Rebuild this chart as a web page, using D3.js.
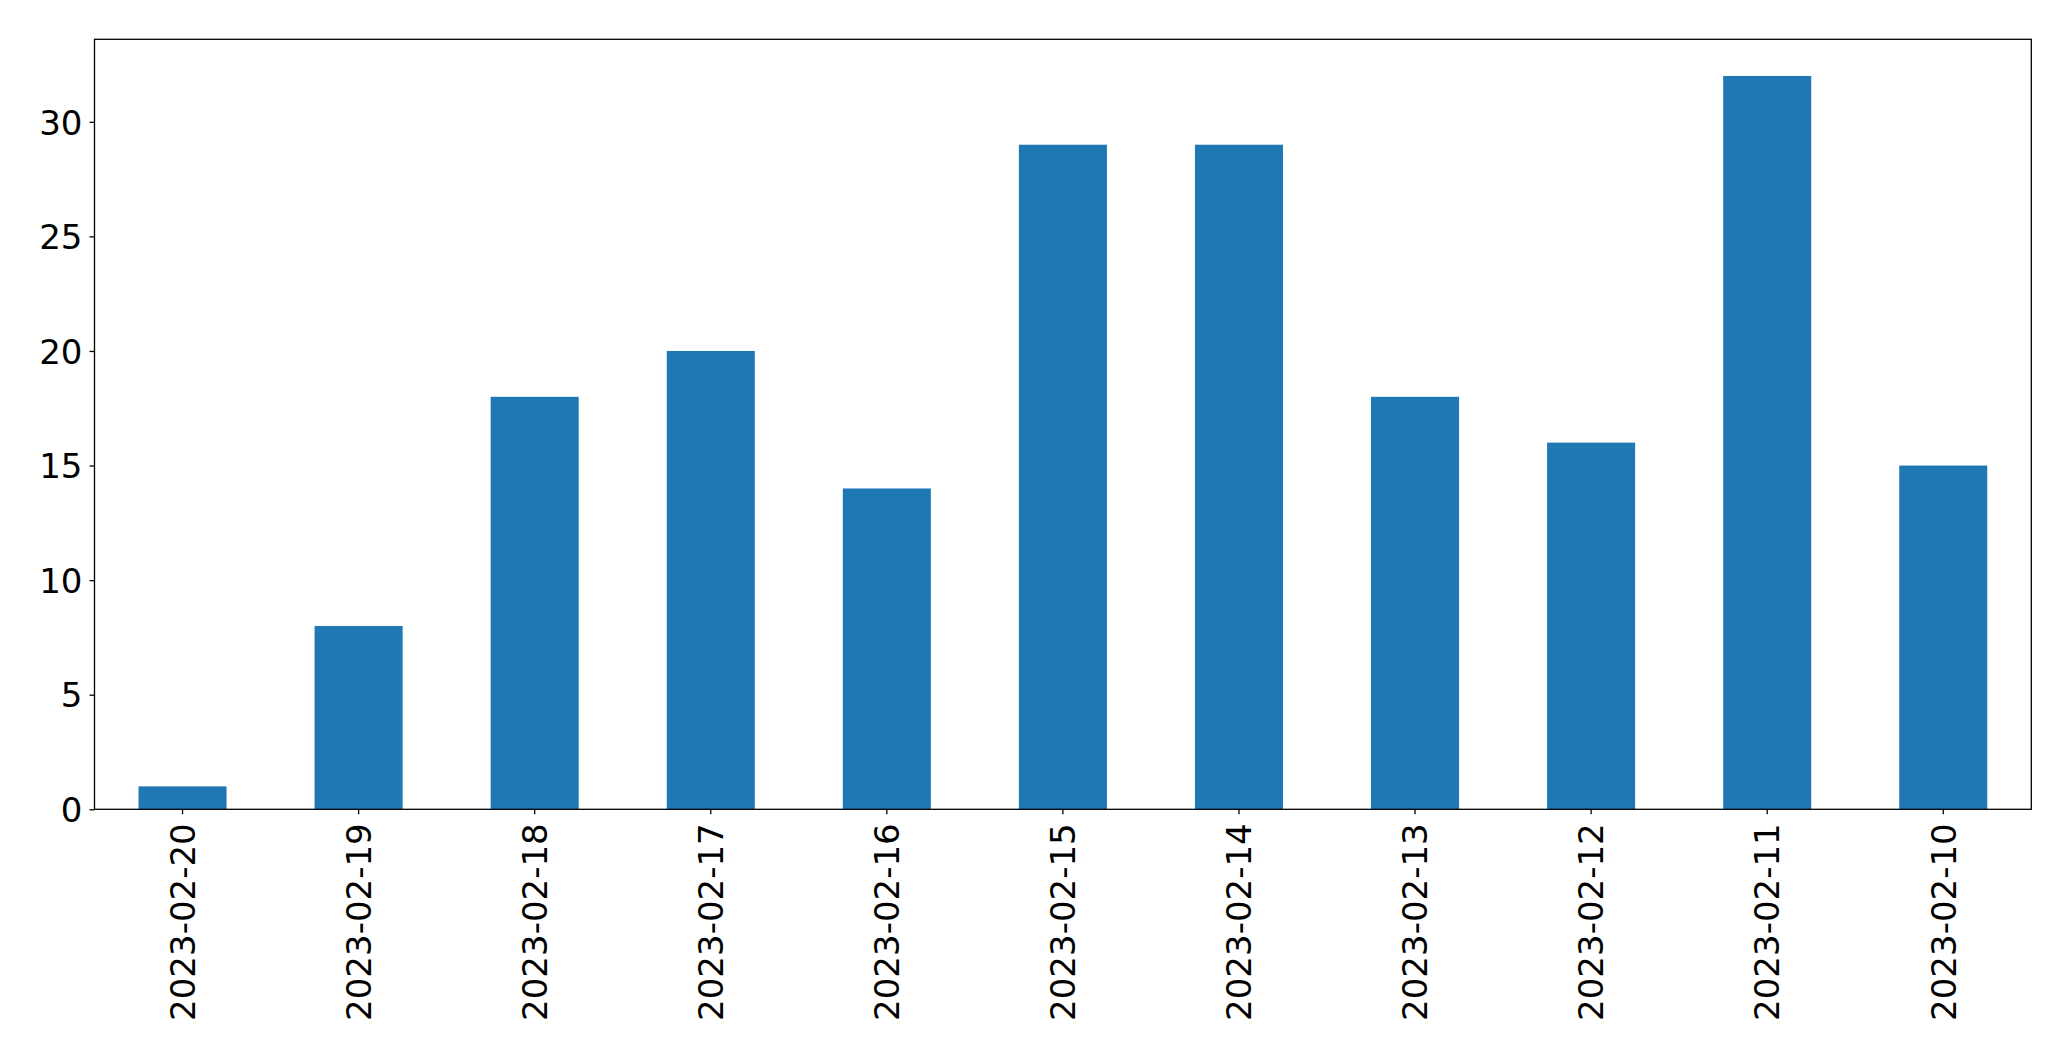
<!DOCTYPE html>
<html>
<head>
<meta charset="utf-8">
<script src="https://cdn.jsdelivr.net/npm/d3@7"></script>
<style>
  html, body { margin: 0; padding: 0; background: #fff; }
  svg { display: block; }
  text { font-family: "DejaVu Sans", sans-serif; }
</style>
</head>
<body>
<script>
const categories = ["2023-02-20","2023-02-19","2023-02-18","2023-02-17","2023-02-16","2023-02-15","2023-02-14","2023-02-13","2023-02-12","2023-02-11","2023-02-10"];
const values = [1, 8, 18, 20, 14, 29, 29, 18, 16, 32, 15];
const yTicks = [0, 5, 10, 15, 20, 25, 30];

const W = 2071, H = 1061;
const m = {left: 94.5, right: 2071 - 2031.3, top: 39.3, bottom: H - 809.3};
const fs = 34;

const svg = d3.select("body").append("svg").attr("width", W).attr("height", H);

const x = d3.scaleBand().domain(categories).range([m.left, W - m.right]).paddingInner(0.5).paddingOuter(0.25);
const y = d3.scaleLinear().domain([0, d3.max(values) * 1.05]).range([H - m.bottom, m.top]);

svg.append("g").selectAll("rect").data(values).join("rect")
  .attr("x", (d, i) => x(categories[i]))
  .attr("y", d => y(d))
  .attr("width", x.bandwidth())
  .attr("height", d => y(0) - y(d))
  .attr("fill", "#1f77b4");

// y axis
const yAxis = svg.append("g").attr("transform", `translate(${m.left},0)`)
  .call(d3.axisLeft(y).tickValues(yTicks).tickSize(5).tickPadding(7).tickFormat(d3.format("d")));
yAxis.select(".domain").remove();
yAxis.selectAll(".tick line").attr("stroke", "#000").attr("stroke-width", 1.3);
yAxis.selectAll(".tick text").attr("font-size", fs).attr("fill", "#000").attr("font-family", "DejaVu Sans").attr("dy", "0.36em");

// x axis
const xAxis = svg.append("g").attr("transform", `translate(0,${H - m.bottom})`)
  .call(d3.axisBottom(x).tickSize(5).tickPadding(0));
xAxis.select(".domain").remove();
xAxis.selectAll(".tick line").attr("stroke", "#000").attr("stroke-width", 1.3);
xAxis.selectAll(".tick text")
  .attr("font-size", fs).attr("fill", "#000").attr("font-family", "DejaVu Sans")
  .attr("text-anchor", "end")
  .attr("transform", "translate(0,14) rotate(-90)")
  .attr("x", 0).attr("y", 0).attr("dy", "0.36em");

// frame
svg.append("rect")
  .attr("x", m.left).attr("y", m.top)
  .attr("width", W - m.right - m.left).attr("height", H - m.bottom - m.top)
  .attr("fill", "none").attr("stroke", "#000").attr("stroke-width", 1.3);
</script>
</body>
</html>
